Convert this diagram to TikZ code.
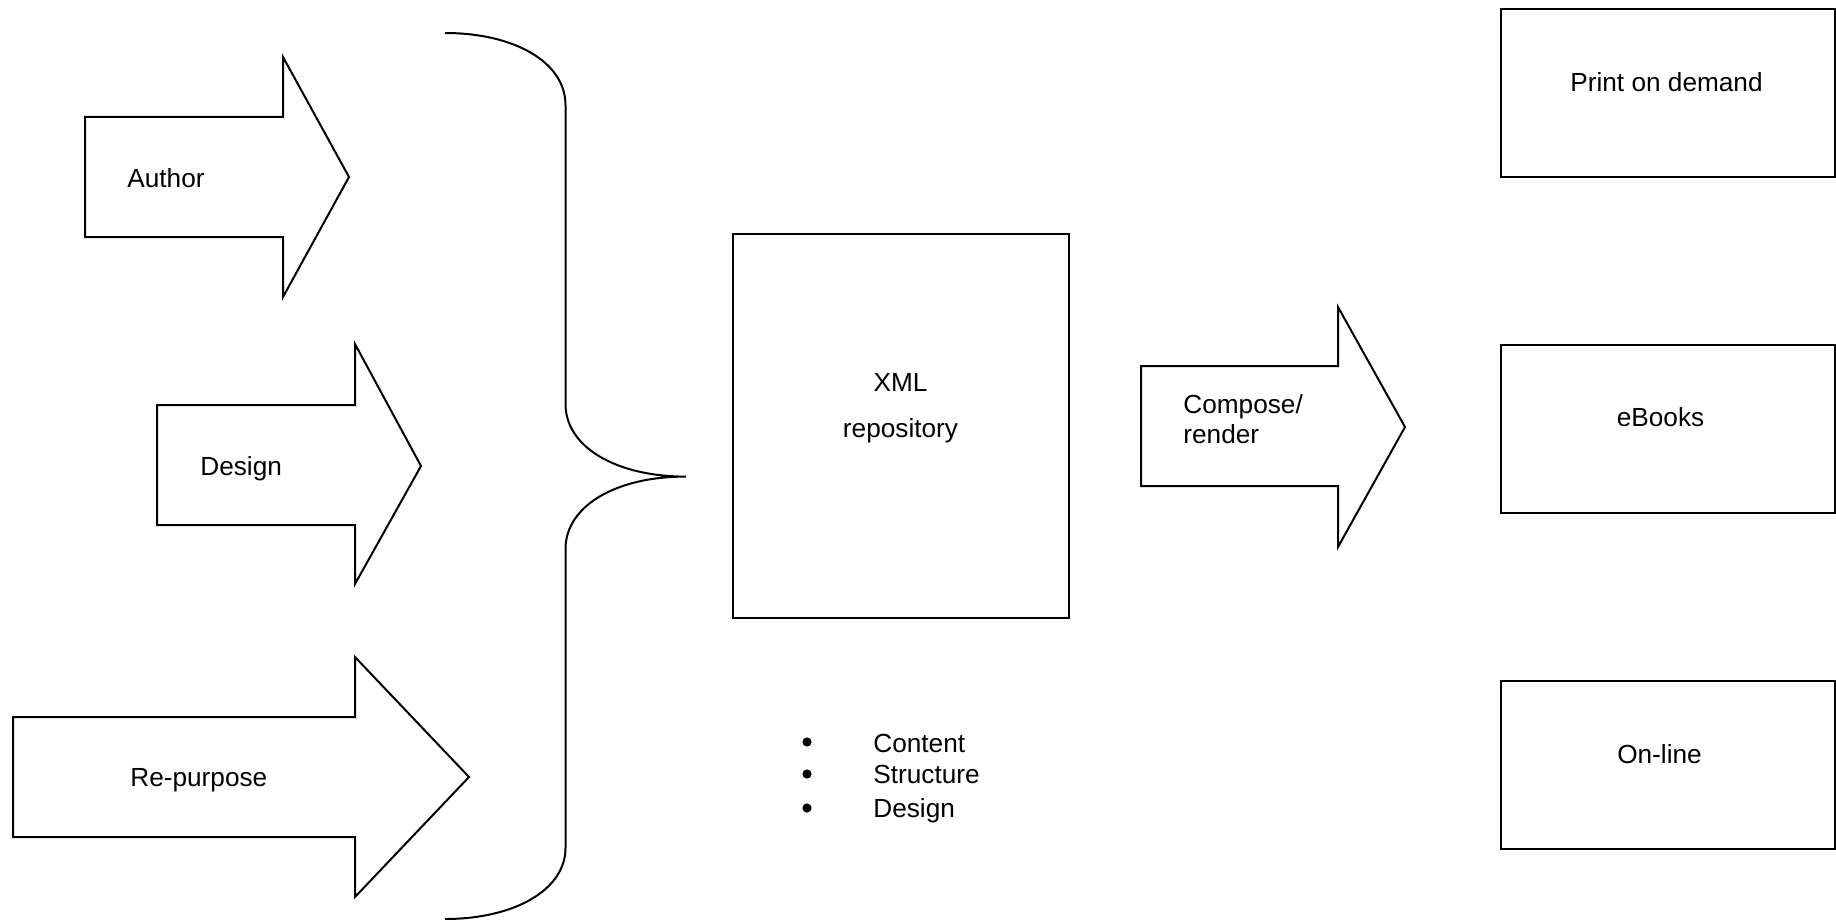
\documentclass[tikz,border=0pt]{standalone}
\usepackage{fontspec}
\setmainfont{Liberation Sans}
\begin{document}
\begin{tikzpicture}[x=0.5pt,y=-0.5pt,
  shapeline/.style={draw=black,line width=1pt,line join=miter},
  lbl/.style={inner sep=0pt,font=\fontsize{13.1pt}{15.7pt}\selectfont},
  lblw/.style={lbl,anchor=base west},
  lblc/.style={lbl,anchor=base},
  bullet/.style={circle,fill=black,inner sep=0pt,minimum size=4.6pt}]
\useasboundingbox (0,0) rectangle (1836,920);
% input arrows
\draw[shapeline] (85,117) -- (283,117) -- (283,57) -- (349,177) -- (283,297) -- (283,237) -- (85,237) -- cycle;
\node[lblw] (author) at (127,187) {Author};
\draw[shapeline] (157,405) -- (355,405) -- (355,344) -- (421,466) -- (355,584) -- (355,525) -- (157,525) -- cycle;
\node[lblw] (design) at (200,475) {Design};
\draw[shapeline] (13,717) -- (355,717) -- (355,657) -- (469,777) -- (355,897) -- (355,837) -- (13,837) -- cycle;
\node[lblw] (repurpose) at (130,786) {Re-purpose};
% brace
\draw[shapeline] (445,33) .. controls (514,33) and (565.5,62) .. (565.5,105)
  -- (565.5,404) .. controls (565.5,447) and (616,476.6) .. (686,476.6)
  -- (685,476.6) .. controls (616,476.6) and (565.5,506) .. (565.5,549)
  -- (565.5,848) .. controls (565.5,890) and (514,919) .. (445,919);
% XML repository
\draw[shapeline] (733,234) rectangle (1069,618);
\node[lblc] (xml) at (900.5,391) {XML};
\node[lblc] (repo) at (900.5,437) {repository};
% bullets
\node[bullet] (b1) at (807,742) {};
\node[bullet] (b2) at (807,774) {};
\node[bullet] (b3) at (807,808) {};
\node[lblw] (content) at (873,752) {Content};
\node[lblw] (structure) at (873,783) {Structure};
\node[lblw] (design2) at (873,817) {Design};
% compose arrow
\draw[shapeline] (1141,366) -- (1338,366) -- (1338,307) -- (1405,427) -- (1338,547) -- (1338,486) -- (1141,486) -- cycle;
\node[lblw] (compose) at (1183,413) {Compose/};
\node[lblw] (render) at (1183,443) {render};
% output boxes
\draw[shapeline] (1501,9) rectangle (1835,177);
\node[lblc] (pod) at (1666.5,92) {Print on demand};
\draw[shapeline] (1501,345) rectangle (1835,513);
\node[lblc] (ebooks) at (1660.5,426) {eBooks};
\draw[shapeline] (1501,681) rectangle (1835,849);
\node[lblc] (online) at (1659.5,763) {On-line};
\end{tikzpicture}
\end{document}
